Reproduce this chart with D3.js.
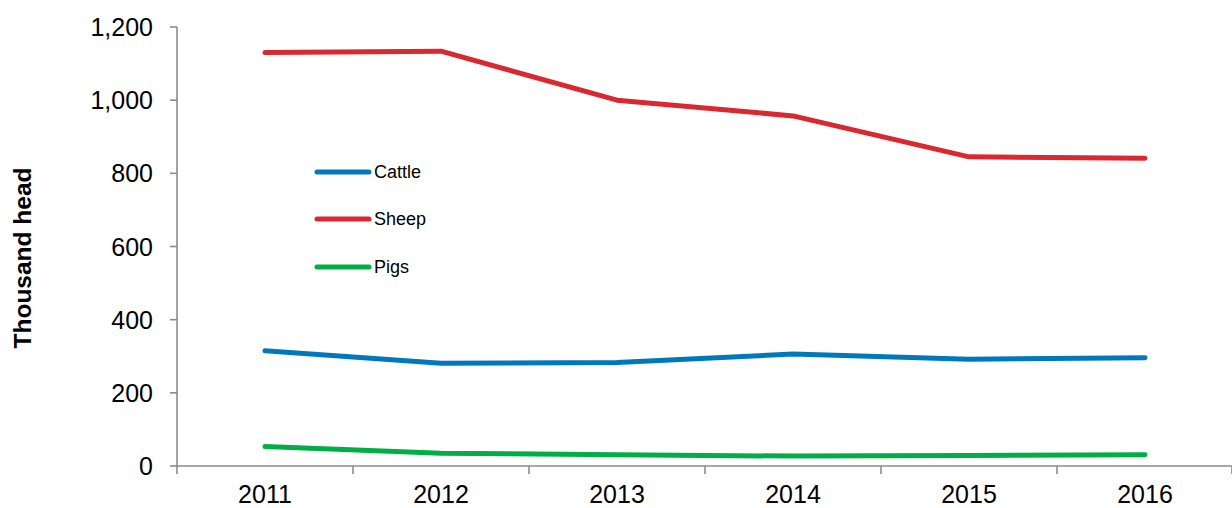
<!DOCTYPE html>
<html>
<head>
<meta charset="utf-8">
<script src="https://cdn.jsdelivr.net/npm/d3@7"></script>
<style>
  body { margin: 0; background: #fff; }
  svg { display: block; font-family: "Liberation Sans", Arial, sans-serif; }
</style>
</head>
<body>
<svg id="chart" width="1232" height="508"></svg>
<script>
// values (thousand head)
var years = ["2011", "2012", "2013", "2014", "2015", "2016"];
var cattle = [315, 281, 283, 306, 292, 296];
var sheep = [1130, 1134, 1000, 957, 845, 841];
var pigs = [53, 35, 31, 27, 29, 31];
var seriesNames = ["Cattle", "Sheep", "Pigs"];
var seriesColors = ["#0079bc", "#d9282f", "#00ae45"];
var yTicks = [0, 200, 400, 600, 800, 1000, 1200];

var series = [cattle, sheep, pigs].map(function(vals, i) {
	return { name: seriesNames[i], color: seriesColors[i], values: vals };
});

var svg = d3.select("#chart");
var axisColor = "#8c8c8c";

var x = d3.scaleBand().domain(years).range([177, 1233]);
var y = d3.scaleLinear().domain([0, 1200]).range([466, 27]);

// y axis
var yAxis = svg.append("g");
yAxis.append("line")
	.attr("x1", 177).attr("x2", 177)
	.attr("y1", y(1200)).attr("y2", y(0))
	.attr("stroke", axisColor).attr("stroke-width", 1.6);
yAxis.selectAll(".ytick").data(yTicks).enter().append("line")
	.attr("x1", 170).attr("x2", 177)
	.attr("y1", function(d) { return y(d); })
	.attr("y2", function(d) { return y(d); })
	.attr("stroke", axisColor).attr("stroke-width", 1.6);
yAxis.selectAll(".ylab").data(yTicks).enter().append("text")
	.attr("x", 153)
	.attr("y", function(d) { return y(d); })
	.attr("dy", "0.36em")
	.attr("text-anchor", "end")
	.attr("font-size", 25)
	.attr("fill", "#000")
	.text(function(d) { return d3.format(",")(d); });

// x axis
var xAxis = svg.append("g");
xAxis.append("line")
	.attr("x1", 177).attr("x2", 1232)
	.attr("y1", y(0)).attr("y2", y(0))
	.attr("stroke", axisColor).attr("stroke-width", 1.6);
var bounds = years.map(function(d) { return x(d); }).concat([x.range()[1] - 1]);
xAxis.selectAll(".xtick").data(bounds).enter().append("line")
	.attr("x1", function(d) { return d; })
	.attr("x2", function(d) { return d; })
	.attr("y1", y(0)).attr("y2", y(0) + 8)
	.attr("stroke", axisColor).attr("stroke-width", 1.6);
xAxis.selectAll(".xlab").data(years).enter().append("text")
	.attr("x", function(d) { return x(d) + x.bandwidth() / 2; })
	.attr("y", 503)
	.attr("text-anchor", "middle")
	.attr("font-size", 25)
	.attr("fill", "#000")
	.text(function(d) { return d; });

// axis title
svg.append("text")
	.attr("transform", "translate(31,258) rotate(-90)")
	.attr("text-anchor", "middle")
	.attr("font-size", 24.5)
	.attr("font-weight", "bold")
	.attr("fill", "#000")
	.text("Thousand head");

// lines
var line = d3.line()
	.x(function(d, i) { return x(years[i]) + x.bandwidth() / 2; })
	.y(function(d) { return y(d); });

svg.selectAll(".series").data(series).enter().append("path")
	.attr("d", function(d) { return line(d.values); })
	.attr("fill", "none")
	.attr("stroke", function(d) { return d.color; })
	.attr("stroke-width", 5)
	.attr("stroke-linecap", "round")
	.attr("stroke-linejoin", "round");

// legend
var legendY = [172, 219, 267];
var legend = svg.selectAll(".legend").data(series).enter().append("g")
	.attr("transform", function(d, i) { return "translate(317," + legendY[i] + ")"; });
legend.append("line")
	.attr("x1", 0).attr("x2", 52)
	.attr("stroke", function(d) { return d.color; })
	.attr("stroke-width", 5)
	.attr("stroke-linecap", "round");
legend.append("text")
	.attr("x", 57)
	.attr("dy", "0.36em")
	.attr("font-size", 18)
	.attr("fill", "#000")
	.text(function(d) { return d.name; });
</script>
</body>
</html>
